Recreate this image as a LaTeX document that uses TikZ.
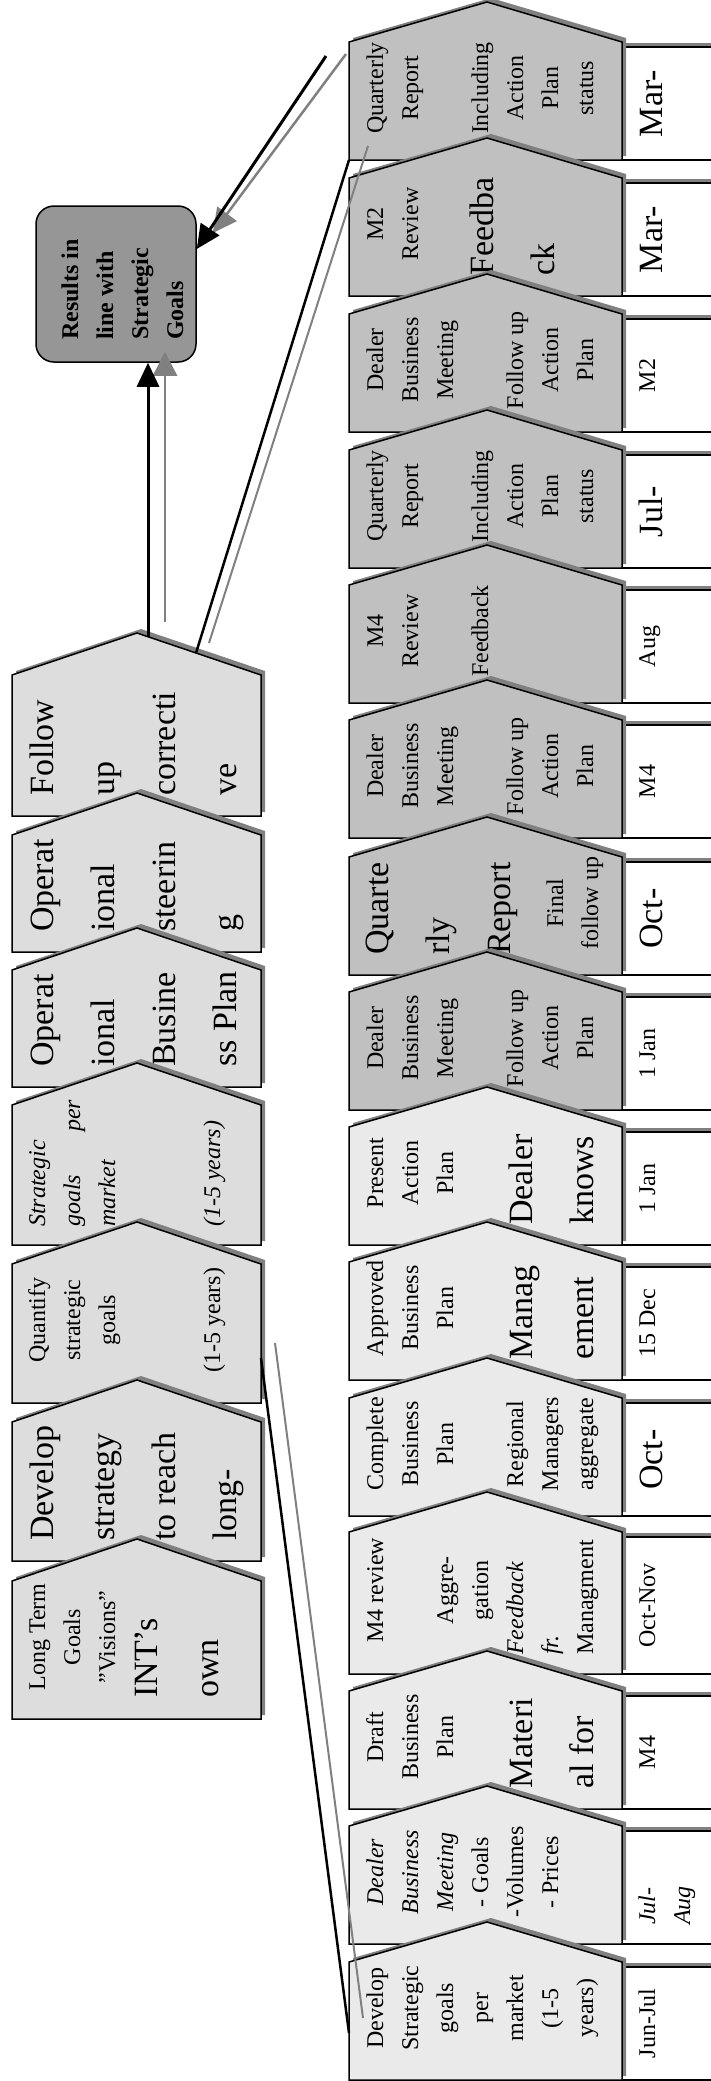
\documentclass[tikz,border=0pt]{standalone}
\usepackage{fontspec}
\setmainfont{Liberation Serif}
\usetikzlibrary{arrows.meta}
\definecolor{leftfill}{HTML}{DDDDDD}
\definecolor{darkfill}{HTML}{C0C0C0}
\definecolor{lightfill}{HTML}{EAEAEA}
\definecolor{resfill}{HTML}{969696}
\definecolor{shadegray}{HTML}{808080}
\begin{document}
\begin{tikzpicture}[x=1pt, y=-1pt,
    dropshade/.style={preaction={draw=none, fill=shadegray, transform canvas={xshift=4pt, yshift=4pt}}},
    chevleft/.style={dropshade, draw=black, line width=1.5pt, fill=leftfill},
    chevdark/.style={dropshade, draw=black, line width=1.5pt, fill=darkfill},
    chevlight/.style={dropshade, draw=black, line width=1.5pt, fill=lightfill},
    datebox/.style={dropshade, draw=black, line width=1.5pt, fill=white},
    resbox/.style={draw=black, line width=1.5pt, fill=resfill, rounded corners=18pt},
    lbl/.style={rotate=90, inner sep=0pt},
    smalltxt/.style={lbl, font=\fontsize{24}{35}\selectfont},
    bigtxt/.style={lbl, font=\fontsize{34}{61}\selectfont},
    midgrp/.style={anchor=north, align=center},
    leftgrp/.style={anchor=north west, align=left},
    blkline/.style={draw=black, line width=2.5pt},
    grayline/.style={draw=shadegray, line width=2pt},
    blkarrow/.style={blkline, line width=3pt, -{Triangle[length=24pt, width=22pt]}},
    grayarrow/.style={grayline, line width=2.5pt, -{Triangle[length=24pt, width=24pt]}}]
\useasboundingbox (0,0) rectangle (711,2081);
\clip (0,0) rectangle (711,2081);

\node[resbox, minimum width=160pt, minimum height=156pt] (res) at (116,284) {};
\node[smalltxt, leftgrp, font=\fontsize{24}{35}\selectfont\bfseries] (restxt) at (53.5,340) {\strut Results in\\line with\\Strategic\\Goals};

\draw[chevleft] (12,816) -- (12,675) -- (137,633) -- (261,675) -- (261,816) -- cycle;
\node[bigtxt, leftgrp] (l1a) at (10.3,796) {\strut Follow\\up\\correcti\\ve};
\draw[chevleft] (12,952) -- (12,835) -- (137,793) -- (261,835) -- (261,952) -- cycle;
\node[bigtxt, leftgrp] (l2a) at (10.3,932) {\strut Operat\\ional\\steerin\\g};
\draw[chevleft] (12,1087) -- (12,970) -- (137,928) -- (261,970) -- (261,1087) -- cycle;
\node[bigtxt, leftgrp] (l3a) at (10.3,1067) {\strut Operat\\ional\\Busine\\ss Plan};
\draw[chevleft] (12,1245) -- (12,1105) -- (137,1063) -- (261,1105) -- (261,1245) -- cycle;
\node[smalltxt, leftgrp, font=\fontsize{24}{35}\selectfont\itshape] (l4a) at (20.5,1227) {\strut Strategic\\goals\hspace{43pt}per\\market\\[70pt](1-5 years)};
\draw[chevleft] (12,1403) -- (12,1264) -- (137,1222) -- (261,1264) -- (261,1403) -- cycle;
\node[smalltxt, midgrp] (l5a) at (20.5,1320) {\strut Quantify\\strategic\\goals\\[70pt](1-5 years)};
\draw[chevleft] (12,1561) -- (12,1422) -- (137,1380) -- (261,1422) -- (261,1561) -- cycle;
\node[bigtxt, leftgrp] (l6a) at (10.3,1541) {\strut Develop\\strategy\\to reach\\long-};
\draw[chevleft] (12,1719) -- (12,1581) -- (137,1539) -- (261,1581) -- (261,1719) -- cycle;
\node[smalltxt, midgrp] (l7a) at (20.5,1637) {\strut Long Term\\Goals\\”Visions”};
\node[bigtxt, leftgrp] (l7b) at (114.3,1698) {\strut INT’s\\own};

\draw[datebox] (622,47) rectangle (735,160);
\draw[chevdark] (349,160) -- (349,42) -- (487,2) -- (622,42) -- (622,160) -- cycle;
\node[smalltxt, midgrp] (r1a) at (358.5,88) {\strut Quarterly\\Report\\[35pt]Including\\Action\\Plan\\status};
\node[bigtxt, anchor=base] (r1d) at (662,103.5) {Mar-};

\draw[datebox] (622,183) rectangle (735,296);
\draw[chevdark] (349,296) -- (349,178) -- (487,138) -- (622,178) -- (622,296) -- cycle;
\node[smalltxt, midgrp] (r2a) at (358.5,224) {\strut M2\\Review};
\node[bigtxt, leftgrp] (r2b) at (450.3,276) {\strut Feedba\\ck};
\node[bigtxt, anchor=base] (r2d) at (662,239.5) {Mar-};

\draw[datebox] (622,319) rectangle (735,432);
\draw[chevdark] (349,432) -- (349,314) -- (487,274) -- (622,314) -- (622,432) -- cycle;
\node[smalltxt, midgrp] (r3a) at (358.5,360) {\strut Dealer\\Business\\Meeting\\[35pt]Follow up\\Action\\Plan};
\node[smalltxt, anchor=base] (r3d) at (655,375.5) {M2};

\draw[datebox] (622,455) rectangle (735,568);
\draw[chevdark] (349,568) -- (349,450) -- (487,410) -- (622,450) -- (622,568) -- cycle;
\node[smalltxt, midgrp] (r4a) at (358.5,496) {\strut Quarterly\\Report\\[35pt]Including\\Action\\Plan\\status};
\node[bigtxt, anchor=base] (r4d) at (662,511.5) {Jul-};

\draw[datebox] (622,590) rectangle (735,703);
\draw[chevdark] (349,703) -- (349,585) -- (487,545) -- (622,585) -- (622,703) -- cycle;
\node[smalltxt, midgrp] (r5a) at (358.5,631) {\strut M4\\Review\\[35pt]Feedback};
\node[smalltxt, anchor=base] (r5d) at (655,646.5) {Aug};

\draw[datebox] (622,725) rectangle (735,838);
\draw[chevdark] (349,838) -- (349,720) -- (487,680) -- (622,720) -- (622,838) -- cycle;
\node[smalltxt, midgrp] (r6a) at (358.5,766) {\strut Dealer\\Business\\Meeting\\[35pt]Follow up\\Action\\Plan};
\node[smalltxt, anchor=base] (r6d) at (655,781.5) {M4};

\draw[datebox] (622,862) rectangle (735,975);
\draw[chevdark] (349,975) -- (349,857) -- (487,817) -- (622,857) -- (622,975) -- cycle;
\node[bigtxt, leftgrp] (r7a) at (345.3,955) {\strut Quarte\\rly\\Report};
\node[smalltxt, midgrp] (r7b) at (538.5,903) {\strut Final\\follow up};
\node[bigtxt, anchor=base] (r7d) at (662,918.5) {Oct-};

\draw[datebox] (622,997) rectangle (735,1110);
\draw[chevdark] (349,1110) -- (349,992) -- (487,952) -- (622,992) -- (622,1110) -- cycle;
\node[smalltxt, midgrp] (r8a) at (358.5,1038) {\strut Dealer\\Business\\Meeting\\[35pt]Follow up\\Action\\Plan};
\node[smalltxt, anchor=base] (r8d) at (655,1053.5) {1 Jan};

\draw[datebox] (622,1132) rectangle (735,1245);
\draw[chevlight] (349,1245) -- (349,1127) -- (487,1087) -- (622,1127) -- (622,1245) -- cycle;
\node[smalltxt, midgrp] (r9a) at (358.5,1173) {\strut Present\\Action\\Plan};
\node[bigtxt, leftgrp] (r9b) at (489.3,1225) {\strut Dealer\\knows};
\node[smalltxt, anchor=base] (r9d) at (655,1188.5) {1 Jan};

\draw[datebox] (622,1267) rectangle (735,1380);
\draw[chevlight] (349,1380) -- (349,1262) -- (487,1222) -- (622,1262) -- (622,1380) -- cycle;
\node[smalltxt, midgrp] (r10a) at (358.5,1308) {\strut Approved\\Business\\Plan};
\node[bigtxt, leftgrp] (r10b) at (489.3,1360) {\strut Manag\\ement};
\node[smalltxt, anchor=base] (r10d) at (655,1323.5) {15 Dec};

\draw[datebox] (622,1403) rectangle (735,1516);
\draw[chevlight] (349,1516) -- (349,1398) -- (487,1358) -- (622,1398) -- (622,1516) -- cycle;
\node[smalltxt, midgrp] (r11a) at (358.5,1444) {\strut Complete\\Business\\Plan\\[35pt]Regional\\Managers\\aggregate};
\node[bigtxt, anchor=base] (r11d) at (662,1459.5) {Oct-};

\draw[datebox] (622,1537) rectangle (735,1674);
\draw[chevlight] (349,1674) -- (349,1532) -- (487,1492) -- (622,1532) -- (622,1674) -- cycle;
\node[smalltxt, midgrp] (r12a) at (358.5,1590) {\strut M4 review\\[35pt]Aggre-\\gation};
\node[smalltxt, leftgrp] (r12b) at (498.5,1655) {\strut\textit{Feedback}\\\textit{fr.}\\Managment};
\node[smalltxt, anchor=base] (r12d) at (655,1605.5) {Oct-Nov};

\draw[datebox] (622,1696) rectangle (735,1809);
\draw[chevlight] (349,1809) -- (349,1691) -- (487,1651) -- (622,1691) -- (622,1809) -- cycle;
\node[smalltxt, midgrp] (r13a) at (358.5,1737) {\strut Draft\\Business\\Plan};
\node[bigtxt, leftgrp] (r13b) at (489.3,1789) {\strut Materi\\al for};
\node[smalltxt, anchor=base] (r13d) at (655,1752.5) {M4};

\draw[datebox] (622,1831) rectangle (735,1944);
\draw[chevlight] (349,1944) -- (349,1826) -- (487,1786) -- (622,1826) -- (622,1944) -- cycle;
\node[smalltxt, midgrp] (r14a) at (358.5,1872) {\strut\textit{Dealer}\\\textit{Business}\\\textit{Meeting}\\- Goals\\-Volumes\\- Prices};
\node[smalltxt, leftgrp, font=\fontsize{24}{35}\selectfont\itshape] (r14d) at (630.5,1925) {\strut Jul-\\Aug};

\draw[datebox] (622,1967) rectangle (735,2080);
\draw[chevlight] (349,2080) -- (349,1962) -- (487,1922) -- (622,1962) -- (622,2080) -- cycle;
\node[smalltxt, midgrp] (r15a) at (358.5,2008) {\strut Develop\\Strategic\\goals\\per\\market\\(1-5\\years)};
\node[smalltxt, anchor=base] (r15d) at (655,2023.5) {Jun-Jul};

\coordinate (l1top) at (148,637);
\coordinate (g1) at (165,622);
\coordinate (q1) at (326,56);
\coordinate (q2) at (346,54);
\coordinate (l1edge) at (196,653);
\coordinate (g3) at (209,643);
\coordinate (r1corner) at (349,160);
\coordinate (g4) at (368,146);
\coordinate (l5edge) at (261,1358);
\coordinate (g5) at (275,1343);
\coordinate (r15edge) at (349,2033);
\coordinate (g6) at (363,2018);

\draw[grayarrow, shorten >=-11pt] (g1) -- (g1 |- res.south);
\draw[grayarrow] (q2) -- ([xshift=16pt,yshift=51pt]res.east);
\draw[grayline] (g3) -- (g4);
\draw[grayline] (g5) -- (g6);
\draw[blkarrow] (l1top) -- (l1top |- res.south);
\draw[blkarrow] (q1) -- ([yshift=35pt]res.east);
\draw[blkline] (l1edge) -- (r1corner);
\draw[blkline] (l5edge) -- (r15edge);
\end{tikzpicture}
\end{document}
